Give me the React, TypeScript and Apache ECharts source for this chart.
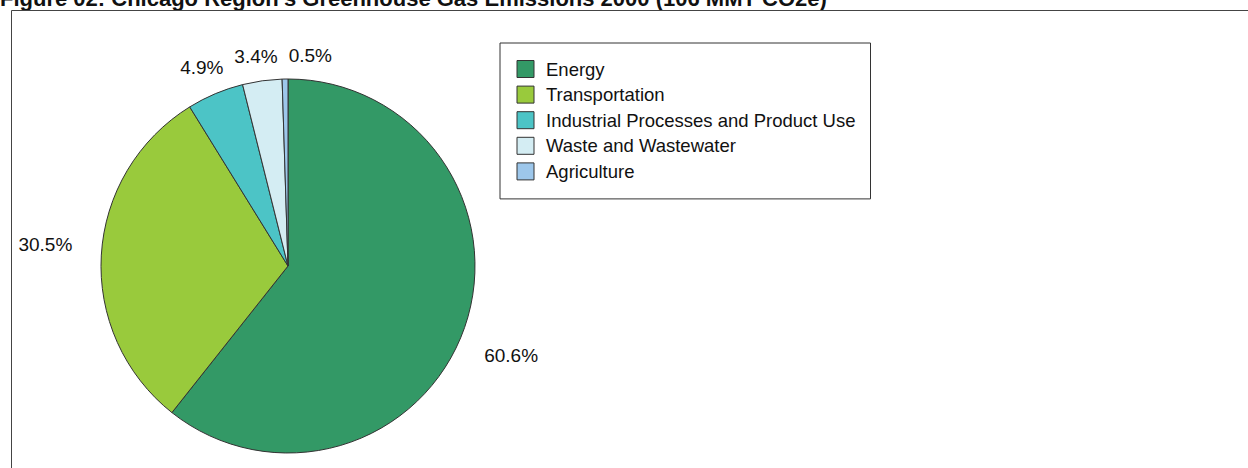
import React, { useEffect, useRef } from 'react';
import * as echarts from 'echarts';

const categories = [
  'Energy',
  'Transportation',
  'Industrial Processes and Product Use',
  'Waste and Wastewater',
  'Agriculture',
];
const shares = [60.6, 30.5, 4.9, 3.4, 0.5];
const colors = ['#339966', '#99CA3C', '#4CC4C6', '#D4EDF3', '#9DC7EB'];
const titleText = "Figure 02: Chicago Region's Greenhouse Gas Emissions 2000 (106 MMT CO2e)";

// layout (style, not data)
const CX = 288;
const CY = 266;
const R = 187;
const LABEL_DIST = 232;
const LABEL_NUDGE: number[][] = [
  [4, 13],
  [-11, -8],
  [4, 15],
  [0, 20],
  [26, 21],
];

export default function App() {
  const ref = useRef<HTMLDivElement>(null);
  useEffect(() => {
    if (!ref.current) return;
    const chart = echarts.init(ref.current, null, { renderer: 'svg' });
    const total = shares.reduce((a, b) => a + b, 0);
    const mids: number[] = [];
    let acc = 0;
    shares.forEach((v) => {
      mids.push(acc + v / 2);
      acc += v;
    });
    const font = '"Liberation Sans", Arial, sans-serif';
    chart.setOption({
      animation: false,
      graphic: [
        {
          type: 'text',
          x: 0,
          y: 9.5,
          style: {
            text: titleText,
            font: 'bold 22px "Liberation Sans Narrow", "Liberation Sans", Arial, sans-serif',
            fill: '#111',
            verticalAlign: 'bottom',
          },
        },
        {
          type: 'polyline',
          shape: { points: [[11.5, 470], [11.5, 10.5], [1250, 10.5]] },
          style: { stroke: '#444', lineWidth: 1, fill: 'none' },
        },
      ],
      legend: {
        orient: 'vertical',
        left: 500,
        top: 43,
        padding: [16.5, 15, 18, 16.5],
        itemWidth: 17,
        itemHeight: 17,
        itemGap: 6.6,
        icon: 'rect',
        borderColor: '#333',
        borderWidth: 1,
        textStyle: {
          fontSize: 18.5,
          lineHeight: 17,
          fontFamily: font,
          color: '#111',
          padding: [0, 0, 0, 7],
        },
        itemStyle: { borderColor: '#333', borderWidth: 1 },
        data: categories,
      },
      series: [
        {
          type: 'pie',
          center: [CX, CY],
          radius: R,
          startAngle: 90,
          clockwise: true,
          avoidLabelOverlap: false,
          emphasis: { disabled: true },
          itemStyle: { borderColor: '#333', borderWidth: 1 },
          label: {
            show: true,
            position: 'outside',
            fontSize: 19,
            fontFamily: font,
            color: '#111',
            formatter: (p: any) => `${Number(p.value).toFixed(1)}%`,
          },
          labelLine: { show: false },
          labelLayout: (p: any) => {
            const i = p.dataIndex;
            const ang = ((90 - (mids[i] / total) * 360) * Math.PI) / 180;
            return {
              x: CX + LABEL_DIST * Math.cos(ang) + LABEL_NUDGE[i][0],
              y: CY - LABEL_DIST * Math.sin(ang) + LABEL_NUDGE[i][1],
              align: 'center',
              verticalAlign: 'middle',
            };
          },
          data: categories.map((name, i) => ({
            name,
            value: shares[i],
            itemStyle: { color: colors[i] },
          })),
        },
      ],
    });
    return () => chart.dispose();
  }, []);
  return (
    <div
      ref={ref}
      style={{ position: 'fixed', left: 0, top: 0, width: 1248, height: 468, background: '#fff' }}
    />
  );
}
